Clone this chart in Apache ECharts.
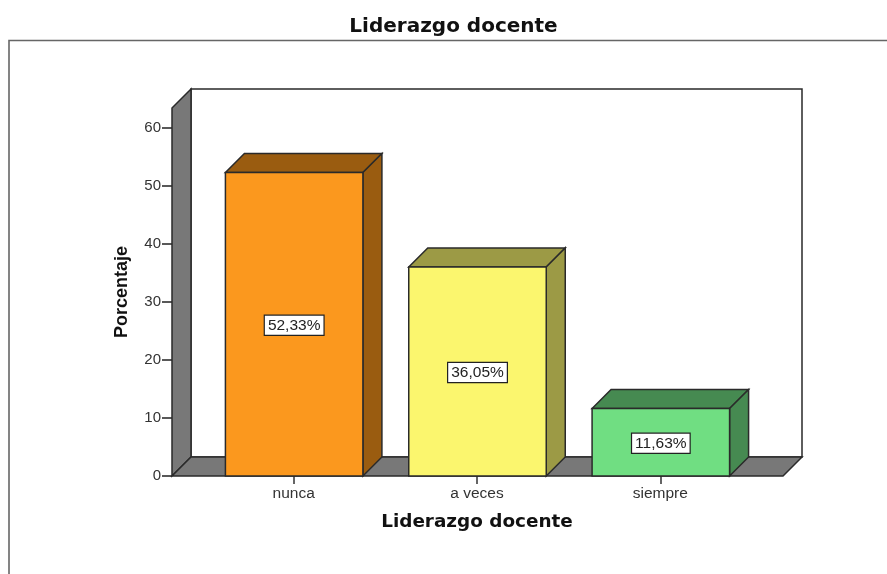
<!DOCTYPE html>
<html><head><meta charset="utf-8">
<style>html,body{margin:0;padding:0;background:#fff}#c{width:887px;height:574px}</style>
<script src="https://cdn.jsdelivr.net/npm/echarts@6/dist/echarts.min.js"></script>
</head><body><div id="c"></div>
<script>
const categories = ['nunca', 'a veces', 'siempre'];
const values = [52.33, 36.05, 11.63];
const valueLabels = ['52,33%', '36,05%', '11,63%'];
const yTicks = [0, 10, 20, 30, 40, 50, 60];
const frontColors = ['#FB981E', '#FBF66E', '#70DE82'];
const shadeColors = ['#9A5C10', '#9C9A45', '#468A51'];
const wallColor = '#787878';
const edge = '#2a2a2a';
const depth = 19;
const chart = echarts.init(document.getElementById('c'));
const edgeStyle = fill => ({ fill, stroke: edge, lineWidth: 1.5 });
const poly = (points, fill) => ({ type: 'polygon', shape: { points }, style: edgeStyle(fill) });

function renderWalls(params, api) {
  const cs = params.coordSys;
  const yTop = api.coord([0, 63.45])[1], y0 = api.coord([0, 0])[1];
  const l = cs.x - 30, r = cs.x + cs.width + 31;
  return { type: 'group', children: [
    poly([[l + depth, yTop - depth], [r + depth, yTop - depth], [r + depth, y0 - depth], [l + depth, y0 - depth]], '#ffffff'),
    poly([[l, yTop], [l + depth, yTop - depth], [l + depth, y0 - depth], [l, y0]], wallColor),
    poly([[l, y0], [l + depth, y0 - depth], [r + depth, y0 - depth], [r, y0]], wallColor)
  ]};
}
function renderBar(params, api) {
  const i = api.value(0), v = api.value(1);
  const [cx, yT] = api.coord([i, v]);
  const y0 = api.coord([i, 0])[1];
  const yMid = api.coord([i, v / 2])[1];
  const w = api.size([1, 0])[0] * 0.75;
  const a = cx - w / 2 + 0.5, b = cx + w / 2 + 0.5;
  return { type: 'group', children: [
    poly([[a, yT], [a + depth, yT - depth], [b + depth, yT - depth], [b, yT]], shadeColors[i]),
    poly([[b, yT], [b + depth, yT - depth], [b + depth, y0 - depth], [b, y0]], shadeColors[i]),
    poly([[a, yT], [b, yT], [b, y0], [a, y0]], frontColors[i]),
    { type: 'text', x: cx + 0.5, y: yMid + 1, style: {
      text: valueLabels[i], x: 0, y: 0, align: 'center', verticalAlign: 'middle',
      font: '15.5px "Liberation Sans"', fill: '#222', backgroundColor: '#fff',
      borderColor: '#222', borderWidth: 1.2, padding: [2, 3, 1, 3]
    }}
  ]};
}
chart.setOption({
  animation: false,
  backgroundColor: '#fff',
  title: { text: 'Liderazgo docente', left: 448.5, top: 12, textAlign: 'center',
    textStyle: { fontFamily: 'DejaVu Sans', fontWeight: 'bold', fontSize: 20, color: '#111' } },
  grid: { left: 202, top: 108, width: 550, height: 368 },
  xAxis: { type: 'category', data: categories,
    axisLine: { show: false },
    axisTick: { show: true, alignWithLabel: true, length: 8, lineStyle: { color: '#333', width: 1.5 } },
    axisLabel: { fontFamily: 'Liberation Sans', fontSize: 15.5, color: '#333', margin: 10 },
    name: 'Liderazgo docente', nameLocation: 'middle', nameGap: 37,
    nameTextStyle: { fontFamily: 'DejaVu Sans', fontWeight: 'bold', fontSize: 18.4, color: '#111' } },
  yAxis: { type: 'value', min: 0, max: 63.45, interval: 10, offset: 30,
    splitLine: { show: false },
    axisLine: { show: false },
    axisTick: { show: true, length: 10, customValues: yTicks, lineStyle: { color: '#222', width: 1.5 } },
    axisLabel: { fontFamily: 'Liberation Sans', fontSize: 15, color: '#333', margin: 11, padding: [2, 0, 0, 0], customValues: yTicks },
    name: 'Porcentaje', nameLocation: 'middle', nameGap: 41,
    nameTextStyle: { fontFamily: 'Liberation Sans', fontWeight: 'bold', fontSize: 18, color: '#111' } },
  graphic: [{ type: 'polyline', silent: true,
    shape: { points: [[9, 574], [9, 40.5], [887, 40.5]] },
    style: { fill: 'none', stroke: '#666', lineWidth: 1.6 } }],
  series: [
    { type: 'custom', renderItem: renderWalls, clip: false, z: 1, silent: true,
      data: [[0, 0]], encode: { x: 0, y: 1 } },
    { type: 'custom', renderItem: renderBar, clip: false, z: 2, silent: true,
      data: values.map((v, i) => [i, v]), encode: { x: 0, y: 1 } }
  ]
});
</script></body></html>
